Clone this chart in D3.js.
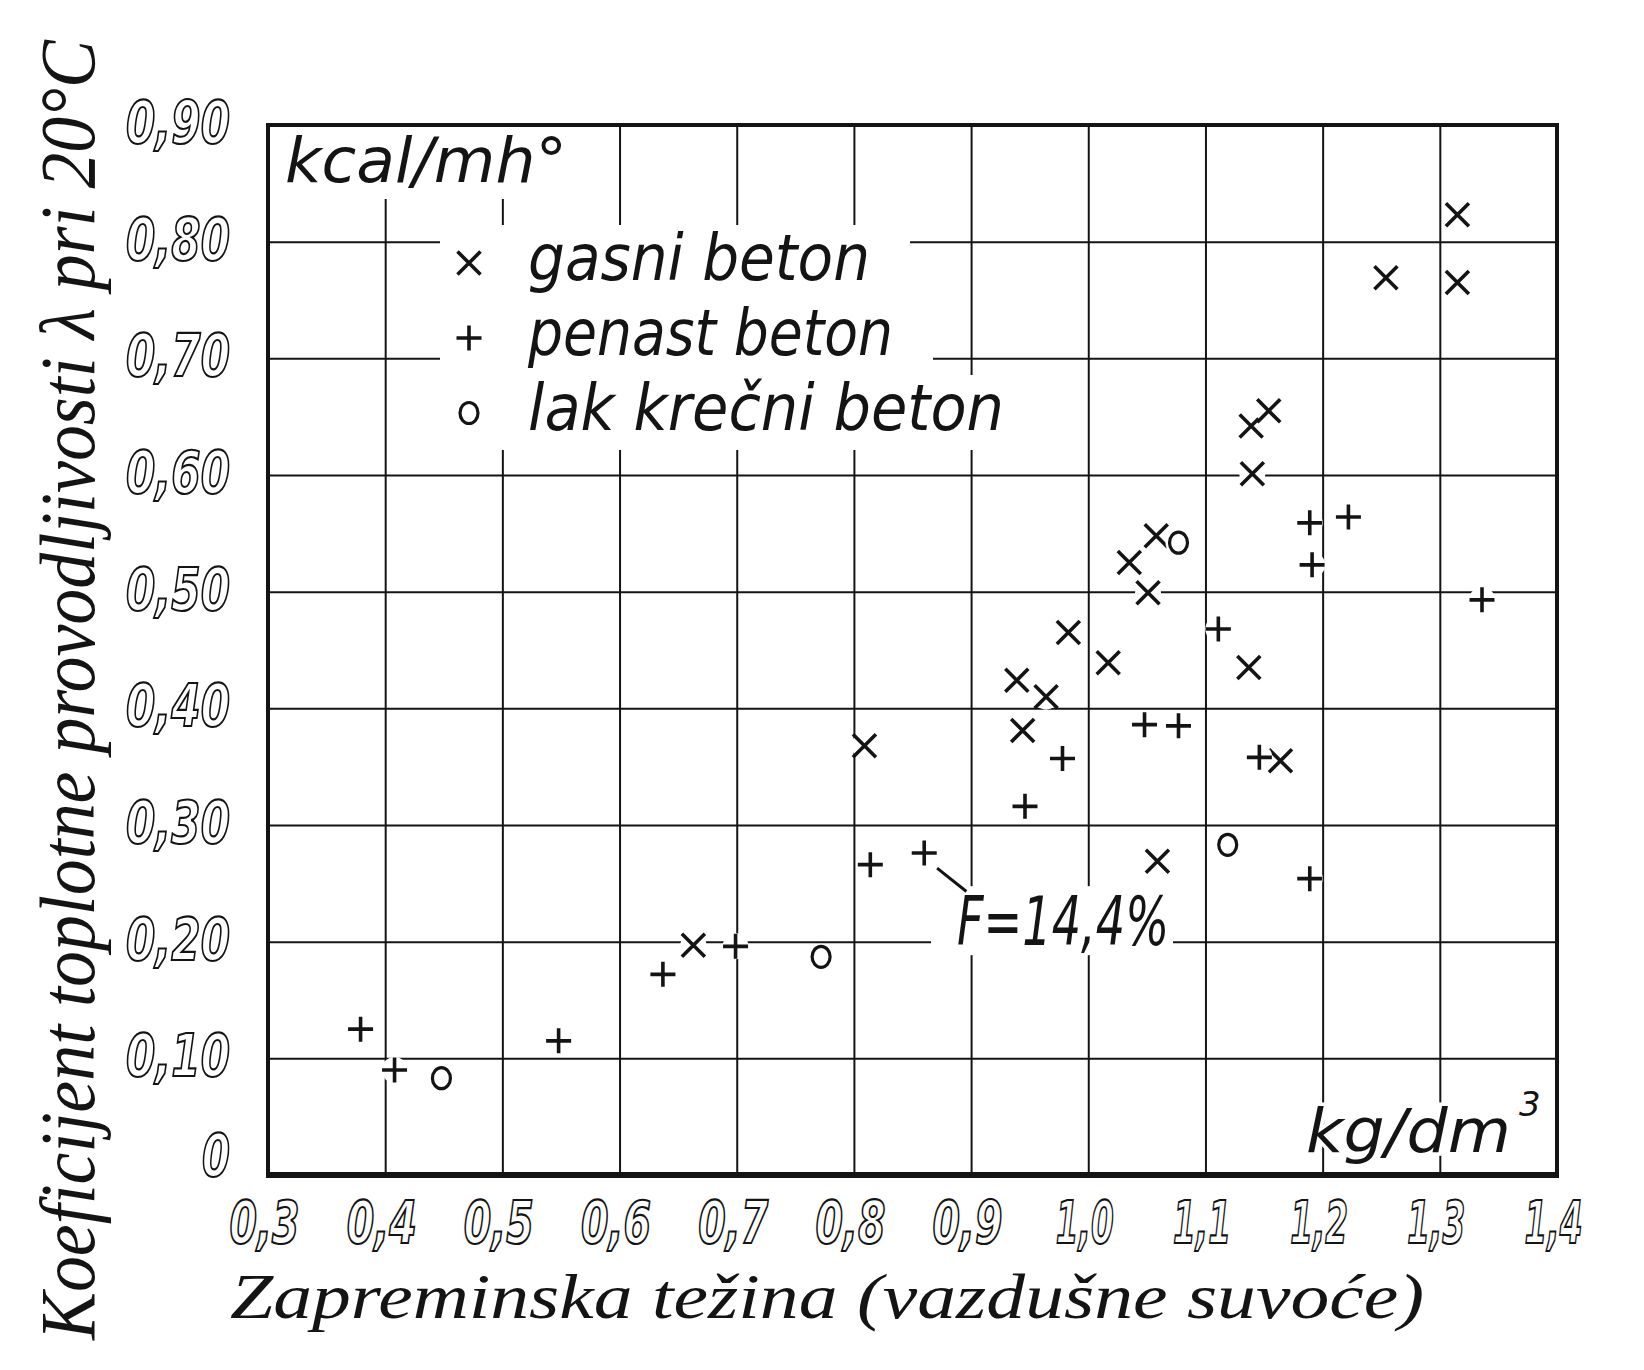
<!DOCTYPE html>
<html>
<head>
<meta charset="utf-8">
<script src="https://cdn.jsdelivr.net/npm/d3@7"></script>
<style>
  body { margin: 0; background: #fff; }
  svg { display: block; }
</style>
</head>
<body>
<div class="canvas chart"></div>
<script>
// points (x = kg/dm3, y = kcal/mh°)
const gasniBeton = [
  [0.663, 0.197], [0.809, 0.368], [0.939, 0.424], [0.944, 0.381],
  [0.964, 0.410], [0.983, 0.465], [1.017, 0.439], [1.035, 0.525],
  [1.051, 0.499], [1.058, 0.548], [1.059, 0.269], [1.137, 0.435],
  [1.139, 0.642], [1.154, 0.655], [1.140, 0.601], [1.164, 0.355],
  [1.254, 0.769], [1.315, 0.823], [1.315, 0.765]
];
const penastBeton = [
  [0.379, 0.125], [0.408, 0.090], [0.548, 0.115], [0.637, 0.172],
  [0.699, 0.196], [0.814, 0.266], [0.860, 0.276], [0.946, 0.316],
  [0.978, 0.357], [1.048, 0.386], [1.077, 0.385], [1.111, 0.468],
  [1.146, 0.358], [1.189, 0.559], [1.191, 0.523], [1.222, 0.564],
  [1.189, 0.254], [1.336, 0.493]
];
const lakKrecniBeton = [
  [0.448, 0.083], [0.772, 0.187], [1.077, 0.542], [1.119, 0.283]
];

const xTicks = [0.3, 0.4, 0.5, 0.6, 0.7, 0.8, 0.9, 1.0, 1.1, 1.2, 1.3, 1.4];
const xTickLabels = ['0,3', '0,4', '0,5', '0,6', '0,7', '0,8', '0,9', '1,0', '1,1', '1,2', '1,3', '1,4'];
const yTicks = [0, 0.1, 0.2, 0.3, 0.4, 0.5, 0.6, 0.7, 0.8, 0.9];
const yTickLabels = ['0', '0,10', '0,20', '0,30', '0,40', '0,50', '0,60', '0,70', '0,80', '0,90'];

const legendLabels = ['gasni beton', 'penast beton', 'lak krečni beton'];
const annotationText = 'F=14,4%';
const annotationAt = [0.888, 0.197];
const leaderFrom = [0.871, 0.263];
const leaderTo = [0.896, 0.243];

const yTitle = 'Koeficijent toplotne provodljivosti λ pri 20°C';
const xTitle = 'Zapreminska težina (vazdušne suvoće)';

const margin = {top: 125, right: 87, bottom: 195, left: 268},
    width = 1644 - margin.left - margin.right,
    height = 1370 - margin.top - margin.bottom;

const ink = '#141414';
const sans = '"DejaVu Sans", Verdana, sans-serif';
const serif = '"Liberation Serif", "DejaVu Serif", serif';

const svg = d3.select('.canvas').append('svg')
    .attr('width', 1644)
    .attr('height', 1370);

svg.append('rect').attr('width', 1644).attr('height', 1370).attr('fill', '#fff');

const graph = svg.append('g')
    .attr('transform', `translate(${margin.left}, ${margin.top})`);

const x = d3.scaleLinear().domain([0.3, 1.4]).range([0, width]);
const y = d3.scaleLinear().domain([0, 0.9]).range([height, 0]);

// squeeze text to the narrow lettering of the original
const squeeze = (sel, len) => sel.attr('textLength', len).attr('lengthAdjust', 'spacingAndGlyphs');

// grid + tick labels through the axes
const xAxis = graph.append('g')
    .attr('transform', `translate(0, ${height})`)
    .call(d3.axisBottom(x).tickValues(xTicks).tickSize(-height).tickFormat((d, i) => xTickLabels[i]));

const yAxis = graph.append('g')
    .call(d3.axisLeft(y).tickValues(yTicks).tickSize(-width).tickFormat((d, i) => yTickLabels[i]));

[xAxis, yAxis].forEach(a => {
  a.select('.domain').remove();
  a.selectAll('line').attr('stroke', ink).attr('stroke-width', 2);
  // hollow, outlined digits like the stencil lettering of the scan
  a.selectAll('text')
      .attr('font-family', sans)
      .attr('font-style', 'italic')
      .attr('font-weight', 'bold')
      .attr('font-size', 58)
      .attr('fill', '#fff')
      .attr('stroke', ink)
      .attr('stroke-width', 2.2);
});

xAxis.selectAll('text')
    .attr('y', 68)
    .attr('dy', null)
    .attr('x', -4)
    .each(function(d, i) {
      squeeze(d3.select(this), xTickLabels[i].startsWith('1') ? 58 : 70);
    });

yAxis.selectAll('text')
    .attr('x', -38)
    .attr('dy', d => d === 0 ? '0em' : '0.3em')
    .each(function(d, i) {
      squeeze(d3.select(this), yTickLabels[i].length > 1 ? 104 : 28);
    });

// white patch behind a text so the grid is broken there, as in the drawing
const blank = (node, padL, padR, padT, padB) => {
  const b = node.getBBox();
  graph.insert('rect', '.marks')
      .attr('x', b.x - padL).attr('y', b.y - padT)
      .attr('width', b.width + padL + padR).attr('height', b.height + padT + padB)
      .attr('fill', '#fff');
};

const marks = graph.append('g').attr('class', 'marks');

// unit labels
const unitY = marks.append('text')
    .attr('x', 285 - margin.left).attr('y', 182 - margin.top)
    .attr('font-family', sans).attr('font-style', 'italic').attr('font-size', 62)
    .attr('fill', ink)
    .text('kcal/mh°');
squeeze(unitY, 282);
blank(unitY.node(), 8, 8, 0, 2);

const unitX = marks.append('text')
    .attr('x', 1306 - margin.left).attr('y', 1152 - margin.top)
    .attr('font-family', sans).attr('font-style', 'italic').attr('font-size', 60)
    .attr('fill', ink)
    .attr('stroke', '#fff').attr('stroke-width', 7).attr('paint-order', 'stroke');
unitX.append('tspan').text('kg/dm').attr('textLength', 205).attr('lengthAdjust', 'spacingAndGlyphs');
unitX.append('tspan').text('3').attr('font-size', 34).attr('dx', 8).attr('dy', -36);

// legend
const legendShapes = ['x', 'plus', 'circle'];
const symbol = {
  x: s => `M${-s},${-s}L${s},${s}M${-s},${s}L${s},${-s}`,
  plus: s => `M${-s},0L${s},0M0,${-s}L0,${s}`
};

const drawMark = (sel, shape) => {
  if (shape === 'circle') {
    sel.append('ellipse').attr('rx', 9).attr('ry', 10.5)
        .attr('fill', 'none').attr('stroke', ink).attr('stroke-width', 3.2);
  } else {
    sel.append('path').attr('d', symbol[shape](shape === 'x' ? 11.5 : 12.5))
        .attr('fill', 'none').attr('stroke', ink).attr('stroke-width', 3.6);
  }
};

const legendLens = [342, 365, 476];
legendLabels.forEach((label, i) => {
  const base = 280 + i * 75 - margin.top;
  const t = marks.append('text')
      .attr('x', 528 - margin.left).attr('y', base)
      .attr('font-family', sans).attr('font-style', 'italic').attr('font-size', 64)
      .attr('fill', ink)
      .text(label);
  squeeze(t, legendLens[i]);
  const b = t.node().getBBox();
  graph.insert('rect', '.marks')
      .attr('x', 440 - margin.left).attr('y', base - 55)
      .attr('width', b.x + b.width + 40 - (440 - margin.left)).attr('height', 75)
      .attr('fill', '#fff');
  const m = marks.append('g').attr('transform', `translate(${469 - margin.left}, ${base - 17})`);
  drawMark(m, legendShapes[i]);
});

// annotation for the marked point
const note = marks.append('text')
    .attr('x', x(annotationAt[0])).attr('y', y(annotationAt[1]))
    .attr('font-family', sans).attr('font-style', 'italic').attr('font-size', 68)
    .attr('fill', ink)
    .text(annotationText);
squeeze(note, 212);
blank(note.node(), 26, 4, -4, -6);

marks.append('line')
    .attr('x1', x(leaderFrom[0])).attr('y1', y(leaderFrom[1]))
    .attr('x2', x(leaderTo[0])).attr('y2', y(leaderTo[1]))
    .attr('stroke', ink).attr('stroke-width', 3);

// data points
const series = [
  {data: gasniBeton, shape: 'x'},
  {data: penastBeton, shape: 'plus'},
  {data: lakKrecniBeton, shape: 'circle'}
];

series.forEach(s => {
  const pts = marks.append('g').selectAll('g')
      .data(s.data)
      .enter()
      .append('g')
      .attr('transform', d => `translate(${x(d[0])}, ${y(d[1])})`);
  pts.append('circle').attr('r', 13).attr('fill', '#fff');
  pts.each(function() { drawMark(d3.select(this), s.shape); });
});

// frame
graph.append('rect')
    .attr('width', width).attr('height', height)
    .attr('fill', 'none').attr('stroke', ink).attr('stroke-width', 4);
graph.append('line')
    .attr('x1', -2).attr('x2', width + 2)
    .attr('y1', height).attr('y2', height)
    .attr('stroke', ink).attr('stroke-width', 6);

// axis titles (y title squeezed with a transform so its box stays honest)
const yt = svg.append('text')
    .attr('font-family', serif).attr('font-style', 'italic').attr('font-size', 78)
    .attr('fill', ink)
    .text(yTitle);
const ytLen = yt.node().getComputedTextLength();
yt.attr('transform', `translate(94, 1340) rotate(-90) scale(${1300 / ytLen}, 1)`);

const xt = svg.append('text')
    .attr('x', 230).attr('y', 1318)
    .attr('font-family', serif).attr('font-style', 'italic').attr('font-size', 64)
    .attr('fill', ink)
    .text(xTitle);
squeeze(xt, 1194);
</script>
</body>
</html>
